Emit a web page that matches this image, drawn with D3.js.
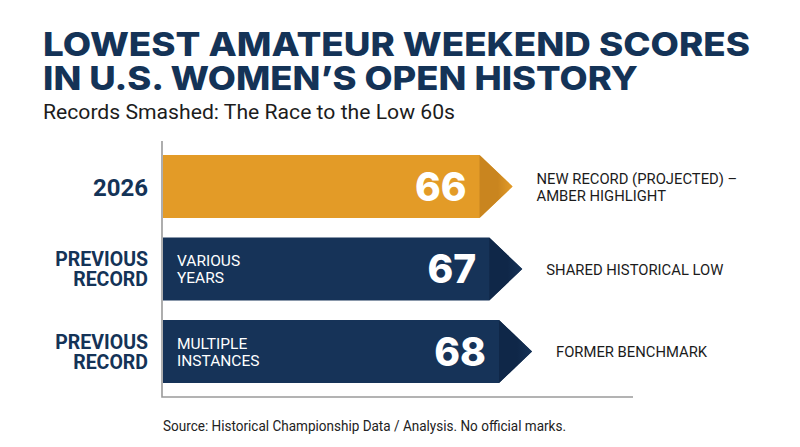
<!DOCTYPE html>
<html>
<head>
<meta charset="utf-8">
<script src="https://cdn.jsdelivr.net/npm/d3@7"></script>
<style>
  body { margin: 0; background: #fff; }
  text { font-family: Roboto, "Noto Sans", sans-serif; }
  .title, .value { font-family: Inter, Roboto, sans-serif; }
</style>
</head>
<body>
<div id="chart"></div>
<script>
// data
var categories = [["2026"], ["PREVIOUS", "RECORD"], ["PREVIOUS", "RECORD"]];
var scores = [66, 67, 68];
var innerLabels = [[], ["VARIOUS", "YEARS"], ["MULTIPLE", "INSTANCES"]];
var notes = [["NEW RECORD (PROJECTED) –", "AMBER HIGHLIGHT"], ["SHARED HISTORICAL LOW"], ["FORMER BENCHMARK"]];
var highlight = [true, false, false];

var titleLines = ["LOWEST AMATEUR WEEKEND SCORES", "IN U.S. WOMEN\u2019S OPEN HISTORY"];
var subtitle = "Records Smashed: The Race to the Low 60s";
var source = "Source: Historical Championship Data / Analysis. No official marks.";

var width = 800, height = 447;
var navy = "#163358", amber = "#E39B27";
var axisX = 162, headW = 33;

var rows = scores.map(function(s, i){
    return { i: i, score: s, cat: categories[i], inner: innerLabels[i], note: notes[i], hl: highlight[i] };
});

var svg = d3.select("#chart")
  .append("svg")
    .attr("width", width)
    .attr("height", height);

var defs = svg.append("defs");
function headGrad(id, dark, base){
    var g = defs.append("linearGradient").attr("id", id)
        .attr("x1", 0).attr("x2", 1).attr("y1", 0).attr("y2", 0);
    g.append("stop").attr("offset", "0%").attr("stop-color", dark);
    g.append("stop").attr("offset", "55%").attr("stop-color", dark);
    g.append("stop").attr("offset", "100%").attr("stop-color", base);
}
headGrad("headAmber", "#C9851F", amber);
headGrad("headNavy", "#0F2748", navy);

// multi-line label as one text element with tspans
function lines(sel, arr, x0, step){
    sel.selectAll("tspan")
      .data(arr)
      .enter()
      .append("tspan")
        .attr("x", x0)
        .attr("dy", function(s, k){ return k == 0 ? 0 : step; })
        .text(function(s){ return s; });
}

// title block
var title = svg.append("text")
    .attr("class", "title")
    .attr("y", 56)
    .style("font-size", "33px")
    .style("font-weight", 800)
    .style("fill", "#143357");
lines(title, titleLines, 43, 34);
title.selectAll("tspan")
    .attr("textLength", function(d, i){ return i == 0 ? 707 : 595; })
    .attr("lengthAdjust", "spacingAndGlyphs");

svg.append("text")
    .attr("x", 43)
    .attr("y", 119)
    .attr("textLength", 412)
    .attr("lengthAdjust", "spacingAndGlyphs")
    .style("font-size", "19.5px")
    .style("fill", "#1c1c1c")
    .text(subtitle);

// scales
var y = d3.scaleBand()
    .domain(rows.map(function(d){ return d.i; }))
    .range([145.25, 392.75])
    .paddingInner(0.236)
    .paddingOuter(0.118);

// tip position of each arrow
var x = d3.scaleLinear()
    .domain([30, 68])
    .range([axisX, 532]);

// axis (L shape)
svg.append("path")
    .attr("d", "M" + axisX + "," + 141 + "V" + 397 + "H" + 633)
    .style("fill", "none")
    .style("stroke", "#9a9a9a")
    .style("stroke-width", 1.6);

var bars = svg.append("g")
  .selectAll("g")
  .data(rows)
  .enter()
  .append("g");

function arrowPath(d){
    var t = y(d.i), b = t + y.bandwidth(), c = t + y.bandwidth() / 2;
    var tip = x(d.score), end = tip - headW;
    return "M" + (axisX + 1) + "," + t + "H" + end + "L" + tip + "," + c + "L" + end + "," + b + "H" + (axisX + 1) + "Z";
}
function headPath(d){
    var t = y(d.i), b = t + y.bandwidth(), c = t + y.bandwidth() / 2;
    var tip = x(d.score), end = tip - headW;
    return "M" + end + "," + t + "L" + tip + "," + c + "L" + end + "," + b + "Z";
}

bars.append("path")
    .attr("d", arrowPath)
    .style("fill", function(d){ return d.hl ? amber : navy; });

bars.append("path")
    .attr("d", headPath)
    .style("fill", function(d){ return d.hl ? "url(#headAmber)" : "url(#headNavy)"; });

// value labels
bars.append("text")
    .attr("class", "value")
    .attr("x", function(d){ return x(d.score) - headW - 13; })
    .attr("y", function(d){ return y(d.i) + y.bandwidth() / 2 + 14; })
    .attr("text-anchor", "end")
    .style("font-size", "39px")
    .style("font-weight", 800)
    .style("fill", "#fff")
    .text(function(d){ return d.score; });

bars.each(function(d){
    var g = d3.select(this);
    var c = y(d.i) + y.bandwidth() / 2;

    // labels inside the bar
    if (d.inner.length) {
        var t1 = g.append("text")
            .attr("y", c + 5.5 - (d.inner.length - 1) / 2 * 17)
            .style("font-size", "15.5px")
            .style("fill", "#fff");
        lines(t1, d.inner, 177, 17);
    }

    // category labels on the left
    var m = d.cat.length;
    var t2 = g.append("text")
        .attr("y", m == 1 ? c + 9 : c + 7 - (m - 1) / 2 * 20)
        .attr("text-anchor", "end")
        .style("font-size", m == 1 ? "24px" : "19.5px")
        .style("font-weight", 700)
        .style("fill", "#143357");
    lines(t2, d.cat, 148, 20);

    // notes on the right
    var t3 = g.append("text")
        .attr("y", c + 5.5 - (d.note.length - 1) / 2 * 17)
        .style("font-size", "14.8px")
        .style("fill", "#1b1b1b");
    lines(t3, d.note, x(d.score) + 24, 17);
});

svg.append("text")
    .attr("x", 163)
    .attr("y", 431)
    .attr("textLength", 403)
    .attr("lengthAdjust", "spacingAndGlyphs")
    .style("font-size", "14.5px")
    .style("fill", "#222")
    .text(source);
</script>
</body>
</html>
